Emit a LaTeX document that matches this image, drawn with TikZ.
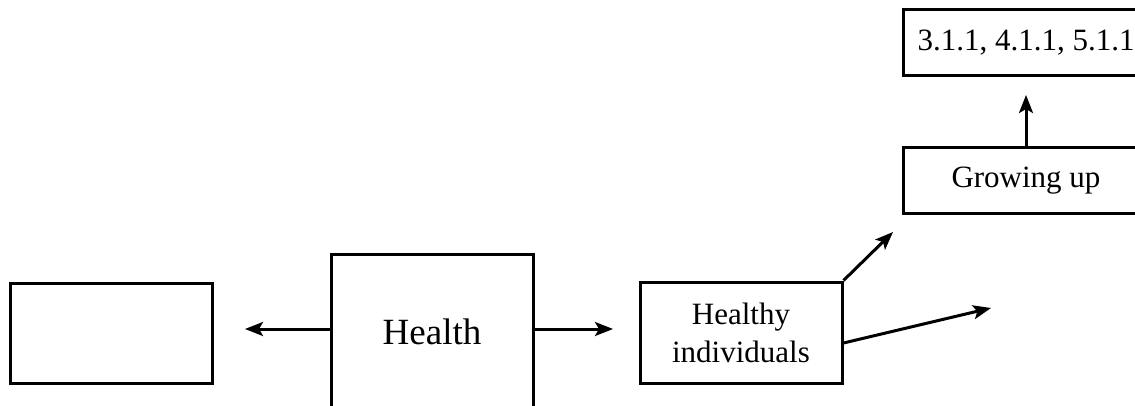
\documentclass[tikz,border=0pt]{standalone}
\usepackage{fontspec}
\setmainfont{Liberation Serif}
\usetikzlibrary{arrows.meta}

\begin{document}
\begin{tikzpicture}[x=1pt,y=1pt,line width=3pt,
	box/.style={draw,rectangle,inner sep=0pt,align=center,font=\fontsize{31}{38}\selectfont}]
		\clip (0,0) rectangle (1135,405);
		\node[box,minimum width=202,minimum height=100] (L) at (111,72) {};
		\node[box,minimum width=202,minimum height=156,font=\fontsize{37}{44}\selectfont] (H) at (432,73) {Health};
		\node[box,minimum width=202,minimum height=101] (HI) at (741,72.5) {Healthy\\individuals};
		\node[box,minimum width=246,minimum height=65] (G) at (1026,224.5) {Growing up};
		\node[box,minimum width=246,minimum height=66] (N) at (1026,362) {3.1.1, 4.1.1, 5.1.1};
		%
		\coordinate (a1) at (245,76);
		\coordinate (a2) at (613,76);
		\coordinate (a3) at (893,173);
		\coordinate (a4) at (991,97);
		\coordinate (a5) at (1026,310);
		%
		\path[->,>={Stealth[length=18pt,width=14pt,inset=4pt]}]
		% horizontal arrows
		([yshift=3]H.west) edge (a1)
		([yshift=3]H.east) edge (a2)
		% slanted arrows
		(HI.north east) edge (a3)
		([yshift=-10.5]HI.east) edge (a4)
		% vertical arrow
		(G.north) edge (a5);
	\end{tikzpicture}
\end{document}
